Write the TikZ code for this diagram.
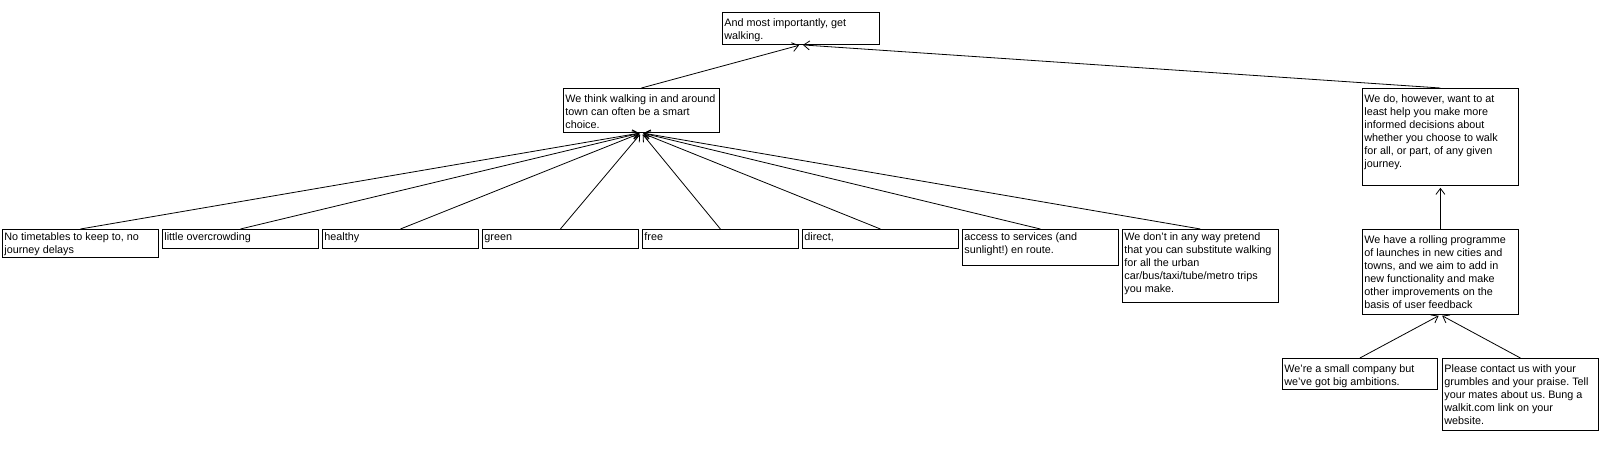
\documentclass[tikz,border=0pt]{standalone}
\usepackage{fontspec}
\setmainfont{Liberation Sans}
\usetikzlibrary{arrows.meta}
\newcommand{\boxtext}[4]{\parbox[c][#2pt][t]{\dimexpr#1pt-4pt\relax}{\raggedright\frenchspacing\vspace*{#3pt}\rule{0pt}{7.8pt}#4}}
\begin{document}
\begin{tikzpicture}[x=1pt,y=-1pt,
    note/.style={draw,line width=0.8pt,anchor=north west,inner xsep=2pt,inner ysep=0pt,font=\fontsize{10.8}{13}\selectfont},
    link/.style={line width=0.8pt,-{Straight Barb[length=6pt,width=9pt]},shorten >=2pt}]
    \useasboundingbox (0,0) rectangle (1600,475);

    \node[note] (walk) at (722,12) {\boxtext{157}{32}{6}{And most importantly, get\\walking.}};
    \node[note] (think) at (563,88) {\boxtext{156}{44}{6}{We think walking in and around\\town can often be a smart\\choice.}};

    \node[note] (timetables) at (2,229) {\boxtext{156}{28}{3}{No timetables to keep to, no\\journey delays}};
    \node[note] (crowding) at (162,229) {\boxtext{156}{19}{3}{little overcrowding}};
    \node[note] (healthy) at (322,229) {\boxtext{156}{19}{3}{healthy}};
    \node[note] (green) at (482,229) {\boxtext{156}{19}{3}{green}};
    \node[note] (free) at (642,229) {\boxtext{156}{19}{3}{free}};
    \node[note] (direct) at (802,229) {\boxtext{156}{19}{3}{direct,}};
    \node[note] (services) at (962,229) {\boxtext{156}{36}{3}{access to services (and\\sunlight!) en route.}};
    \node[note] (pretend) at (1122,229) {\boxtext{156}{73}{3}{We don’t in any way pretend\\that you can substitute walking\\for all the urban\\car/bus/taxi/tube/metro trips\\you make.}};

    \node[note] (decide) at (1362,88) {\boxtext{156}{97}{6}{We do, however, want to at\\least help you make more\\informed decisions about\\whether you choose to walk\\for all, or part, of any given\\journey.}};
    \node[note] (rolling) at (1362,229) {\boxtext{156}{85}{6}{We have a rolling programme\\of launches in new cities and\\towns, and we aim to add in\\new functionality and make\\other improvements on the\\basis of user feedback}};
    \node[note] (company) at (1282,358) {\boxtext{155}{31}{6}{We’re a small company but\\we’ve got big ambitions.}};
    \node[note] (contact) at (1442,358) {\boxtext{156}{72}{6}{Please contact us with your\\grumbles and your praise. Tell\\your mates about us. Bung a\\walkit.com link on your\\website.}};

    \draw[link] (think.north) -- (walk.south);
    \draw[link] (decide.north) -- (walk.south);

    \draw[link] (timetables.north) -- (think.south);
    \draw[link] (crowding.north) -- (think.south);
    \draw[link] (healthy.north) -- (think.south);
    \draw[link] (green.north) -- (think.south);
    \draw[link] (free.north) -- (think.south);
    \draw[link] (direct.north) -- (think.south);
    \draw[link] (services.north) -- (think.south);
    \draw[link] (pretend.north) -- (think.south);

    \draw[link] (rolling.north) -- (decide.south);
    \draw[link] (company.north) -- (rolling.south);
    \draw[link] (contact.north) -- (rolling.south);
\end{tikzpicture}
\end{document}
